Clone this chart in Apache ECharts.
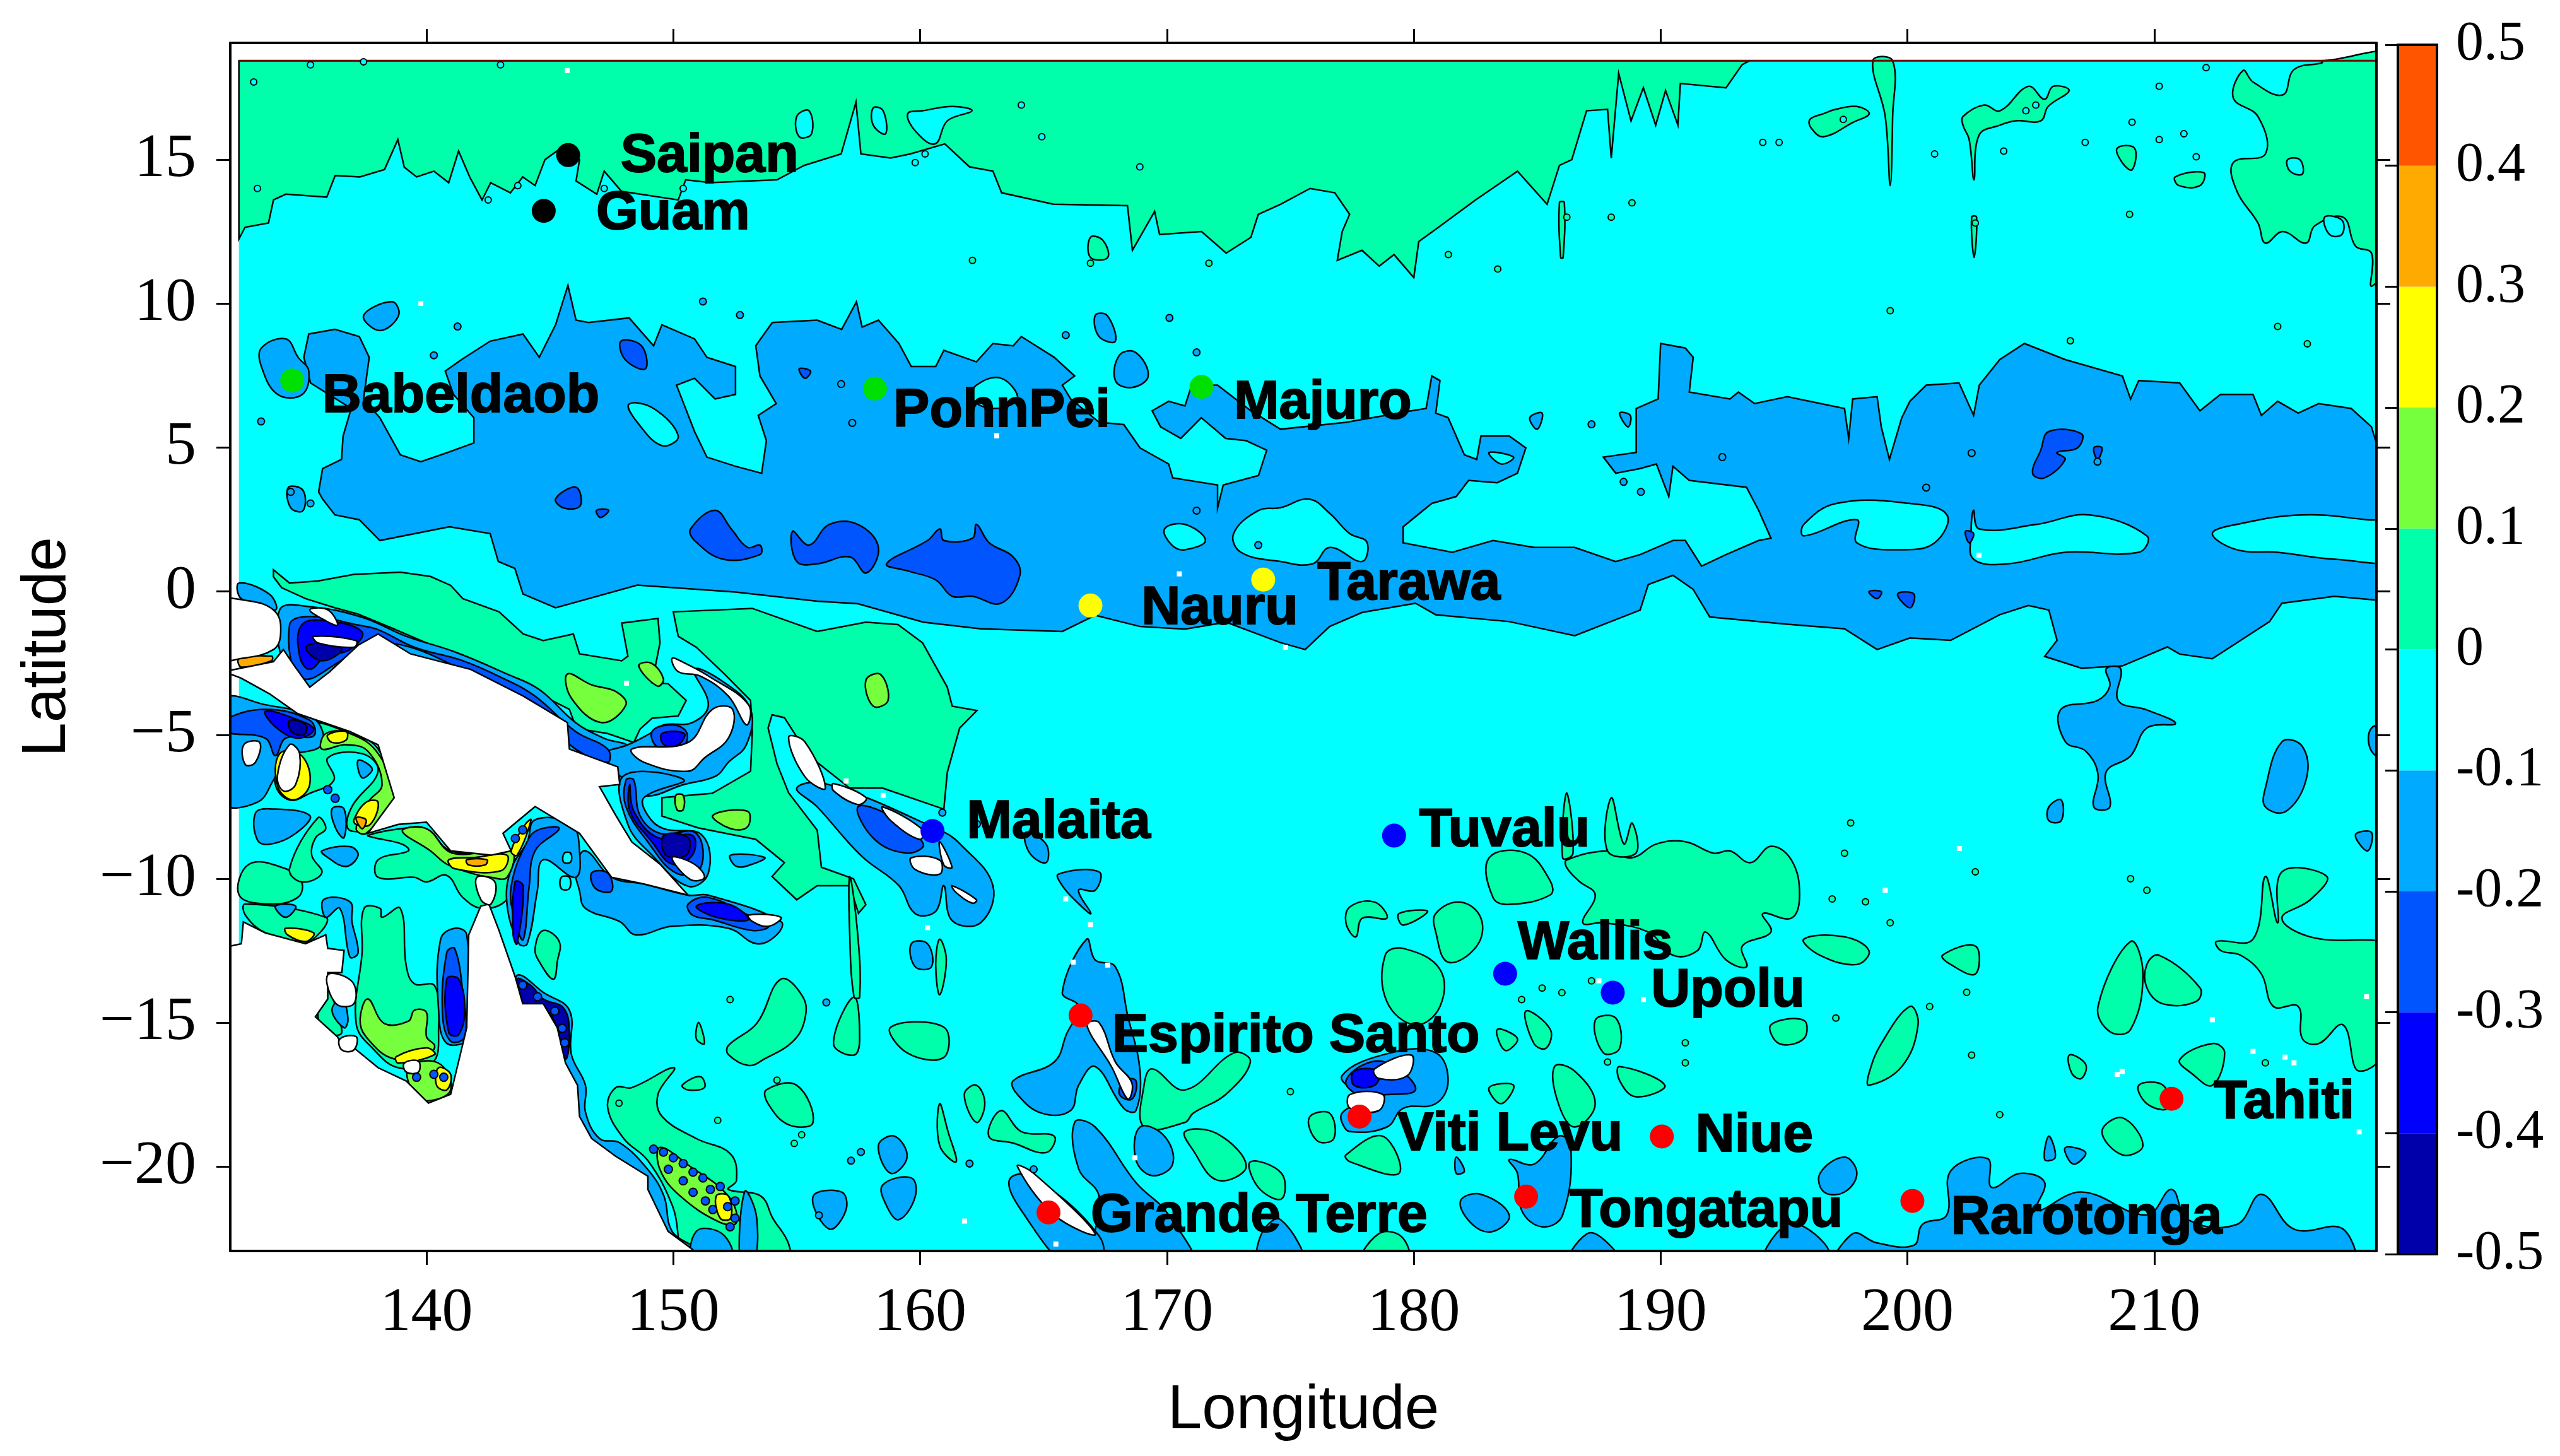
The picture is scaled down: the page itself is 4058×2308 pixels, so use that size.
<!DOCTYPE html>
<html>
<head>
<meta charset="utf-8">
<title>Sea level trend map</title>
<script src="https://cdn.jsdelivr.net/npm/echarts@6/dist/echarts.min.js"></script>
<style>
html,body{margin:0;padding:0;background:#fff;}
#chart{width:4058px;height:2308px;}
</style>
</head>
<body>
<div id="chart"></div>
<script>
// axis ticks
var xTicks = [140,150,160,170,180,190,200,210];
var yTicks = [-20,-15,-10,-5,0,5,10,15];

// colour bar
var barLevels = [-0.5,-0.4,-0.3,-0.2,-0.1,0,0.1,0.2,0.3,0.4,0.5];
var barColors = ['#0000aa','#0000ff','#0055ff','#00aaff','#00ffff','#00ffaa','#75ff3c','#ffff00','#ffaa00','#ff5500'];

// tide gauge stations
var stationNames = ['Saipan','Guam','Babeldaob','PohnPei','Majuro','Nauru','Tarawa','Malaita','Tuvalu','Wallis','Upolu','Espirito Santo','Viti Levu','Niue','Tahiti','Tongatapu','Rarotonga','Grande Terre'];
var stationLon = [145.74,144.75,134.56,158.17,171.4,166.9,173.9,160.5,179.2,183.7,188.06,166.5,177.8,190.05,210.7,184.55,200.2,165.2];
var stationLat = [15.16,13.22,7.32,7.04,7.1,-0.5,0.4,-8.34,-8.5,-13.3,-13.96,-14.75,-18.27,-18.96,-17.65,-21.05,-21.2,-21.6];
var stationColors = ['#000','#000','#00e000','#00e000','#00e000','#ffff00','#ffff00','#0000ff','#0000ff','#0000ff','#0000ff','#ff0000','#ff0000','#ff0000','#ff0000','#ff0000','#ff0000','#ff0000'];
var labelLon = [147.85,146.86,135.76,158.9,172.7,168.95,176.08,161.87,180.2,184.2,189.6,167.76,179.33,191.4,212.4,186.3,201.75,166.9];
var labelLat = [15.1,13.1,6.76,6.25,6.53,-0.62,0.23,-8.06,-8.34,-12.26,-13.9,-15.5,-18.9,-18.95,-17.8,-21.56,-21.8,-21.73];

// contours, [lon,lat]
var oceanBase = [[[132.4,-23],[219,-23],[219,18.44],[132.4,18.44]]];

var greenNorth = [
 [[132.4,18.44],[132.4,12.24],[132.65,12.65],[133.6,12.8],[133.8,13.6],[134.3,13.8],[135.96,13.7],[136.3,14.45],[137.3,14.4],[138.3,14.66],[138.84,15.7],[139.1,14.74],[139.6,14.4],[140.3,14.6],[140.9,14.2],[141.3,15.3],[141.75,14.4],[142.25,13.6],[142.6,14.2],[143.4,13.85],[143.9,14.4],[144.4,14.1],[144.8,15],[145.6,15.5],[146.2,15],[146.06,14.26],[146.9,13.8],[147.2,14.6],[147.9,13.9],[150.2,13.6],[150.5,14.3],[151.5,14.2],[154.2,14.3],[155.3,14.8],[156.8,15.2],[157.4,17],[157.6,15.2],[158.8,15.06],[159.6,15.2],[161,15.55],[162,14.75],[162.95,14.6],[163.3,13.85],[165.4,13.45],[168.4,13.4],[168.6,11.85],[169.5,13.2],[169.7,12.4],[171.4,12.5],[172.4,11.75],[173.4,12.3],[173.7,13.1],[174.6,13.45],[175.8,14],[176.8,13.85],[177.4,13.1],[177.1,12.5],[176.9,11.5],[177.9,11.85],[178.6,11.3],[179.2,11.7],[180,10.9],[180.2,12.15],[181,12.65],[182.5,13.6],[184.2,14.6],[185.4,13.45],[185.9,14.8],[186.4,15],[187,16.7],[187.85,16.75],[188,15.05],[188.3,18],[188.8,16.35],[189.3,17.5],[189.8,16.2],[190.2,17.4],[190.7,16.2],[190.8,17.65],[192.65,17.5],[193.3,18.3],[193.6,18.44]],
 [[216.8,18.37],[215.66,18.13],[215.2,17.25],[214,17.7],[213.6,18.1],[213.2,17.15],[214.2,16.5],[214.5,15.2],[213.2,14.9],[213.35,13.9],[214.2,12.8],[214.5,12.1],[215.2,12.5],[216.15,12.1],[216.5,12.7],[217.65,13],[218.15,12],[218.8,11.75],[218.8,10.6],[219.6,11.85],[220,18.44],[216.8,18.44]],
 [[202.25,16.5],[203.1,16.9],[203.75,16.7],[204.9,17.55],[205.55,17.1],[205.9,17.55],[206.55,17.4],[205.7,16.85],[205.4,16.35],[204.4,16.35],[203.75,16.2],[202.9,15.85],[202.7,14.3],[202.5,15.7],[202.25,16.2]],
 [[198.6,18.44],[199.4,18.44],[199.4,16.5],[199.3,14.1],[199.1,16.5]],
 [[196.05,16.4],[196.6,16.6],[197.1,16.75],[197.95,16.85],[198.45,16.6],[197.8,16.3],[196.6,15.8],[196.1,16.1]],
 [[208.5,15.4],[209.2,15.4],[209.1,14.65],[208.7,14.9]],
 [[210.85,14.4],[212,14.55],[211.85,14.1],[211,14.1]],
 [[166.9,12.3],[167.4,12.2],[167.6,11.6],[166.9,11.6]],
 [[185.9,13.5],[186.1,13.5],[186.05,11.6],[185.95,11.6]],
 [[202.6,13],[202.8,13],[202.7,11.6]]
];
var cyanNorth = [
 [[160.1,16.7],[161.3,16.85],[162.1,16.7],[161.1,16.35],[160.6,15.55],[159.8,16],[159.5,16.6]],
 [[155,16.5],[155.5,16.7],[155.6,15.9],[155.1,15.8]],
 [[158.1,16.8],[158.5,16.7],[158.6,15.9],[158.1,16.2]],
 [[215.4,15],[215.9,15],[216,14.5],[215.5,14.6]],
 [[216.9,13],[217.6,12.9],[217.6,12.4],[217.1,12.4]]
];
var bandBlue = [
 [[135.63,3.45],[135.79,4.26],[136.56,4.58],[136.62,5.39],[136.95,6.35],[135.3,7.24],[135.03,8.13],[135.23,8.94],[136.29,9.1],[137.28,8.85],[137.68,8.13],[137.45,6.68],[138.11,6.03],[138.94,4.74],[139.77,4.5],[140.86,4.82],[141.92,5.15],[141.92,6.03],[141.09,6.84],[140.76,7.65],[141.42,8.05],[142.58,8.69],[143.91,8.94],[144.57,8.13],[145.23,9.26],[145.73,10.63],[146.06,9.42],[146.56,9.34],[148.21,9.5],[149.2,8.53],[149.54,9.26],[150.86,8.77],[151.36,8.13],[152.52,7.81],[152.52,6.84],[151.69,6.68],[150.86,7.4],[150.13,7.16],[150.86,5.55],[151.36,4.66],[152.52,4.34],[153.58,4.1],[153.77,5.23],[153.44,6.11],[154.17,6.52],[153.51,7.48],[153.34,8.53],[154.01,9.34],[155.83,9.42],[156.82,9.1],[157.42,10.06],[157.65,9.18],[158.31,9.42],[159.14,8.61],[159.64,7.81],[160.63,7.81],[160.96,8.37],[162.28,7.97],[162.95,8.61],[163.77,8.53],[164.1,8.85],[165.43,8.13],[166.26,7.48],[165.76,7.16],[166.1,6.68],[167.25,5.87],[168.25,5.79],[168.91,4.98],[170.07,4.42],[170.23,3.94],[172.05,3.69],[172.05,2.89],[172.28,3.69],[173.71,4.02],[174.04,4.9],[173.21,5.23],[172.38,5.31],[171.39,6.03],[170.56,5.31],[169.74,5.71],[169.4,6.27],[170.07,6.6],[170.73,6.44],[171,7.16],[172.05,7.16],[173.4,6.27],[174.6,5.63],[177.25,5.87],[179.9,6.27],[180.5,6.35],[180.73,7.48],[181.06,7.32],[180.89,6.19],[181.39,6.03],[182.05,4.74],[182.55,4.58],[182.72,5.39],[183.87,5.39],[184.54,4.98],[184.2,4.1],[183.38,3.77],[182.22,3.85],[181.72,3.29],[180.73,3.05],[179.57,2.24],[179.57,1.68],[181.56,1.35],[183.21,1.76],[184.87,1.52],[186.52,1.52],[188.18,1.03],[189.17,1.27],[190.5,1.76],[191,1.76],[191.66,0.87],[192.65,1.27],[193.97,1.76],[194.47,1.84],[193.97,2.81],[193.48,3.61],[191.16,3.85],[190.5,4.34],[190.33,3.29],[189.83,4.42],[189.17,4.26],[188.18,4.1],[187.68,4.66],[189.01,4.82],[189.01,6.35],[189.9,6.68],[190,8.61],[191,8.45],[191.32,8.13],[191.16,6.92],[192.81,6.68],[193.15,6.92],[193.81,6.52],[195.13,6.76],[197.45,6.35],[197.62,5.31],[197.78,6.68],[198.77,6.76],[198.94,5.71],[199.27,4.58],[199.77,6.03],[200.1,6.6],[200.76,7.16],[202.09,7.24],[202.68,6.11],[202.91,7.16],[203.74,8.05],[204.74,8.61],[206.39,8.05],[208.71,7.48],[209.04,6.68],[209.37,7.32],[211.03,7.24],[211.85,6.27],[212.68,6.84],[214,6.84],[214.34,6.11],[215,6.6],[215.83,6.19],[216.66,6.52],[217.98,6.35],[218.8,5.71],[219,5.15],[219,-0.31],[217.3,-0.18],[215.17,-0.42],[214.67,-1.06],[212.35,-2.35],[211.03,-2.19],[210.53,-1.94],[208.71,-2.6],[207.05,-2.68],[205.56,-2.27],[206.06,-1.71],[205.73,-0.66],[204.9,-0.5],[203.74,-0.82],[201.75,-1.71],[200.1,-1.63],[198.77,-2.03],[197.45,-1.31],[195.13,-1.15],[191.99,-0.9],[191.32,0.06],[190.5,0.55],[189.5,0.23],[189.17,-0.66],[186.52,-1.55],[183.87,-1.06],[180.89,-0.82],[180.07,-0.42],[177.91,-0.74],[176.59,-1.23],[175.6,-2.03],[174.6,-1.79],[172.4,-1.08],[170.73,-1.32],[168.91,-1.23],[167.09,-0.84],[165.76,-1.4],[162.45,-1.31],[160.13,-1.08],[157.48,-0.44],[155.83,-0.35],[152.52,-0.03],[148.54,0.21],[145.23,-0.58],[143.91,-0.1],[143.58,0.79],[142.91,1.03],[142.58,2],[140.93,2.24],[138.11,1.76],[137.28,2.48],[136.29,2.65],[135.79,3.2]],
 [[133.31,8.45],[134.3,8.77],[134.8,8.13],[135.23,7.65],[134.97,6.84],[133.97,6.84],[133.31,7.81]],
 [[137.45,9.58],[138.6,10.06],[138.87,9.58],[138.11,9.06]],
 [[167.09,9.58],[167.58,9.58],[167.91,8.69],[167.25,8.85]],
 [[168.08,8.21],[168.74,8.29],[169.24,7.48],[168.58,7.08],[167.91,7.32]],
 [[184.7,6.03],[185.2,6.19],[185,5.63]],
 [[188.34,6.19],[188.77,6.11],[188.68,5.71]],
 [[134.4,3.6],[135,3.5],[135,2.8],[134.5,2.9]]
];
var bandHoles = [
 [[172.7,2],[173.7,2.8],[174.6,2.9],[175.76,3.2],[176.6,2.7],[177.4,2],[178.1,1.7],[177.9,1.03],[176.6,1.52],[175.9,0.95],[174.6,1.03],[173,1.35]],
 [[169.9,2.16],[170.73,2.32],[171.56,1.76],[170.73,1.44],[170.2,1.6]],
 [[195.8,2.32],[197.12,3.05],[200.1,3.05],[201.6,2.65],[201.1,1.68],[199.77,1.44],[197.95,1.68],[197.95,2.48],[195.8,1.92]],
 [[202.68,2.81],[202.91,2.16],[205.23,2.32],[207.38,2.65],[209.7,1.92],[209.37,1.35],[206.39,1.35],[204.07,0.95],[202.68,1.11],[202.58,2]],
 [[212.35,2],[213.34,2.32],[215.99,2.65],[218.64,2.48],[220,2.32],[220,1.11],[217.32,1.11],[215,1.35],[213.34,1.44]],
 [[162.28,7.16],[163.28,7.4],[163.94,6.68],[162.95,6.35],[162.12,6.68]],
 [[148.2,6.5],[149.2,6.35],[150.2,5.39],[149.54,5.06],[148.54,5.87]],
 [[183.05,4.82],[184.04,4.66],[183.54,4.42]]
];
var bandDeep = [
 [[158.64,0.95],[160.3,1.76],[160.8,2.16],[160.96,1.76],[162.12,1.84],[162.28,2.32],[162.8,1.68],[163.77,1.19],[164.04,0.55],[163.28,-0.42],[162.12,-0.18],[161.3,-0.18],[160.63,0.39],[159.47,0.71]],
 [[150.7,2.16],[151.69,2.81],[152.35,2.16],[153.01,1.52],[153.51,1.6],[153.51,1.27],[152.02,1.11],[150.86,1.76]],
 [[154.83,2.08],[155.5,1.6],[156.32,2.32],[157.48,2.32],[158.31,1.52],[157.81,0.63],[157.15,1.19],[155.83,0.95],[155,1.03]],
 [[147.88,8.69],[148.71,8.53],[148.87,7.73],[148.05,8.05]],
 [[145.23,3.21],[146.06,3.61],[146.23,2.97],[145.56,2.89]],
 [[146.89,2.81],[147.38,2.81],[147.05,2.56]],
 [[155.1,7.73],[155.56,7.65],[155.33,7.4]],
 [[205.73,5.55],[207.05,5.47],[206.89,4.98],[206.06,4.82],[206.39,4.58],[205.56,3.94],[205.07,4.1],[205.4,4.9]],
 [[199.6,-0.1],[200.26,-0.1],[200.1,-0.58]],
 [[198.44,-0.02],[198.94,-0.02],[198.77,-0.26]],
 [[207.55,4.98],[207.88,4.98],[207.7,4.58]],
 [[202.35,2.08],[202.68,2],[202.5,1.68]]
];

var greenSouth = [
 [[133.8,0.74],[134.45,0.28],[135.6,0.35],[137.06,0.58],[138.94,0.66],[140.16,0.51],[140.98,0.2],[141.47,-0.26],[142.94,-0.72],[143.92,-1.49],[144.73,-1.72],[145.95,-1.49],[146.2,-2.18],[147.91,-2.42],[148.16,-2.26],[147.91,-1.11],[149.38,-0.95],[149.46,-1.8],[149.14,-3.18],[149.79,-3.22],[150.52,-3.8],[150.2,-4.34],[149.14,-4.42],[148.65,-4.8],[148.4,-5.26],[147.34,-4.95],[146.28,-4.8],[145.95,-4.49],[145.79,-4.11],[144.73,-3.65],[143.92,-3.26],[142.77,-2.88],[141.79,-2.34],[140,-1.8],[138.53,-1.26],[137.23,-0.8],[136.25,-0.57],[135.1,-0.26],[134.13,0.12],[133.8,0.5]],
 [[150,-0.72],[153.2,-0.6],[155.83,-1.4],[157.8,-1.08],[159.1,-1.16],[160.1,-1.8],[161.1,-3.34],[161.3,-4],[162.3,-4.15],[161.6,-4.76],[161.1,-6.3],[160.96,-7.58],[158.48,-6.85],[157.15,-6.85],[155.5,-5.73],[154.5,-4.4],[154,-4.3],[153.84,-4.76],[154.2,-6],[154.67,-7.01],[155.83,-8.31],[156,-9.6],[157.3,-10],[157.8,-10.9],[157.5,-11.2],[157.15,-10.24],[155.83,-10.24],[155,-10.73],[154,-9.92],[154.5,-9.44],[153.34,-8.63],[151,-8.23],[149.54,-7.82],[149.54,-7.18],[151.58,-7.03],[153.13,-6.26],[153.2,-4.88],[153.13,-3.8],[152.07,-2.88],[150.93,-1.95],[150.2,-1.57]],
 [[147.34,-17.95],[147.67,-17.26],[148.32,-17.26],[150.03,-16.57],[149.38,-17.49],[149.54,-18.26],[150.93,-19.03],[152.32,-19.57],[152.56,-20.49],[152.23,-20.8],[153.54,-21.03],[154.03,-21.8],[154.68,-22.72],[154.68,-23.6],[150.77,-23.6],[149.95,-21.34],[148.97,-19.8],[147.99,-19.03]],
 [[137.47,-11.03],[138.12,-11.03],[138.2,-11.34],[138.94,-11.03],[139.18,-13.03],[139.51,-13.65],[140.33,-13.72],[140.49,-15.18],[140.24,-16.41],[138.86,-16.57],[137.88,-15.95],[137.15,-15.03],[137.39,-12.57]],
 [[135.27,-4.57],[136.9,-4.95],[138.04,-5.49],[138.61,-7.18],[137.55,-8.26],[136.82,-8.26],[136.98,-7.49],[138.04,-6.26],[137.39,-5.65],[136,-5.8],[136.25,-6.57],[135.27,-7.03],[134.45,-7.26],[133.88,-6.72],[134.05,-5.65],[135.11,-5.18]],
 [[132.41,-10.57],[132.82,-9.49],[134.29,-9.65],[134.94,-10.11],[134.78,-10.65],[133.64,-10.88]],
 [[134.45,-9.65],[135.6,-7.88],[135.92,-8.26],[135.51,-8.57],[135.35,-9.18],[135.76,-9.8],[134.94,-10.11]],
 [[137.63,-8.49],[138.94,-8.26],[140,-8.26],[140.98,-9.03],[143.43,-9.18],[143.59,-9.8],[143.26,-10.72],[142.28,-11.03],[141.47,-10.65],[140.82,-9.88],[140,-10.11],[139.51,-9.95],[138.04,-9.95],[138.04,-9.34],[139.27,-9.03],[139.02,-8.8],[137.88,-8.57]],
 [[132.66,-10.88],[135.92,-11.34],[135.76,-11.8],[134.94,-12.26],[133.47,-11.88],[132.66,-11.26]],
 [[135.6,-14.8],[136.08,-13.88],[136.33,-14.57],[136.57,-15.34],[136.25,-15.42]],
 [[152.23,-15.8],[153.38,-15.03],[154.36,-13.49],[155.25,-14.11],[155.33,-14.88],[154.85,-15.65],[153.7,-16.26],[153.05,-16.49],[152.23,-16.11]],
 [[144.4,-12.42],[144.73,-11.8],[145.38,-12.18],[145.3,-12.88],[145.14,-13.49],[144.57,-12.88]],
 [[150.36,-17.18],[151.09,-16.88],[151.26,-17.26],[150.6,-17.34]],
 [[160.79,-12.1],[161.06,-12.82],[160.79,-14.03],[160.63,-12.98]],
 [[169.07,-17.18],[169.4,-16.61],[170.73,-17.34],[172.72,-16.05],[173.38,-16.37],[172.38,-17.5],[171.06,-18.15],[170.73,-18.47],[169.07,-18.63]],
 [[170.73,-18.79],[172.05,-18.87],[173.21,-20],[172.05,-20.48],[171.06,-19.44]],
 [[173.38,-19.84],[174.64,-20.24],[174.64,-21.13],[173.7,-20.73]],
 [[163.28,-18.06],[164.1,-18.79],[165.43,-18.95],[165.1,-19.52],[163.77,-19.19],[162.78,-18.95]],
 [[161.79,-17.5],[162.28,-17.18],[162.62,-17.82],[162.28,-18.47]],
 [[160.79,-17.82],[161.13,-18.79],[161.46,-19.84],[160.79,-19.27]],
 [[156.49,-15.73],[157.32,-14.11],[157.55,-15.56],[157.32,-16.13]],
 [[157.15,-9.92],[157.48,-12.02],[157.55,-14.11],[157.32,-14.11],[157.15,-12.02]],
 [[158.81,-15.16],[160.96,-15.16],[160.96,-16.21],[159.47,-16.05]],
 [[151.03,-15],[151.26,-15.73],[150.93,-15.56]],
 [[153.77,-17.34],[155,-17.18],[155.66,-18.47],[154.67,-18.55],[153.84,-17.82]],
 [[186.19,-9.35],[187.85,-9.03],[188.84,-9.27],[189.83,-8.79],[191,-8.71],[192.15,-9.11],[192.81,-9.03],[193.64,-9.44],[194.47,-8.87],[195.3,-9.35],[195.63,-10.56],[195.3,-11.37],[194.14,-11.21],[194.47,-11.85],[193.31,-12.34],[193.48,-13.06],[192.65,-12.82],[191.82,-11.85],[191.49,-12.5],[190.5,-12.66],[189.5,-11.85],[187.68,-11.53],[186.85,-11.53],[187.35,-10.56],[186.69,-10.08],[186.19,-9.6]],
 [[183.05,-9.27],[184.54,-9.11],[185.53,-10.08],[185.53,-10.56],[183.87,-10.89],[183.21,-10.65]],
 [[188.01,-7.18],[188.51,-8.79],[188.84,-8.06],[189,-9.11],[187.85,-9.03]],
 [[186.19,-7.02],[186.45,-9.11],[186.03,-9.27]],
 [[177.42,-10.97],[178.41,-10.81],[178.91,-11.37],[177.91,-11.37],[177.65,-12.02],[177.25,-11.53]],
 [[179.4,-11.21],[180.56,-11.13],[179.57,-11.61]],
 [[180.89,-11.21],[181.89,-10.81],[182.72,-11.37],[182.55,-12.34],[181.39,-12.9],[180.89,-11.85]],
 [[178.84,-12.66],[179.57,-12.42],[181.06,-13.15],[181.06,-14.44],[180.07,-15.08],[178.91,-14.27]],
 [[183.38,-15.24],[184.2,-15.56],[183.7,-15.97]],
 [[184.54,-14.6],[185.53,-15.24],[185.36,-15.89],[184.87,-15.73]],
 [[187.35,-14.92],[188.18,-14.84],[188.34,-15.89],[187.68,-16.05]],
 [[188.34,-16.53],[190.17,-17.18],[189,-17.58],[188.34,-17.02]],
 [[194.47,-15.08],[195.8,-14.92],[195.8,-15.56],[194.8,-15.73]],
 [[198.94,-15.73],[200.1,-14.44],[200.43,-15.08],[199.77,-16.53],[198.44,-17.18],[198.44,-16.77]],
 [[195.8,-12.1],[197.45,-12.02],[198.44,-12.5],[197.95,-12.98],[196.46,-12.66]],
 [[201.42,-12.66],[202.75,-12.34],[202.75,-13.31],[201.75,-12.98]],
 [[207.72,-14.44],[209.04,-12.18],[209.54,-13.31],[209.04,-15.24],[208.21,-15.32]],
 [[209.7,-12.98],[210.2,-12.66],[211.85,-13.79],[211.69,-14.27],[210.36,-14.35],[209.7,-13.79]],
 [[211.03,-16.29],[212.35,-15.73],[212.85,-16.05],[212.35,-17.18],[211.52,-16.77]],
 [[209.37,-17.18],[210.36,-17.18],[210.53,-17.98],[209.7,-17.82]],
 [[207.88,-18.79],[208.71,-18.31],[209.54,-19.27],[208.71,-19.6]],
 [[206.56,-16.13],[207.22,-16.45],[207.05,-16.94],[206.66,-16.77]],
 [[183.05,-17.26],[184.04,-17.18],[183.54,-17.82]],
 [[185.7,-16.53],[186.52,-16.69],[187.35,-17.82],[186.52,-18.63],[185.86,-17.82]],
 [[175.76,-18.31],[176.59,-18.15],[176.76,-19.03],[176.09,-19.11]],
 [[177.25,-19.6],[178.74,-18.95],[179.4,-20.24],[177.42,-19.84]],
 [[212.52,-12.18],[214,-12.1],[214.5,-9.92],[215,-11.53],[215.17,-9.76],[216.99,-9.92],[216.32,-10.73],[215.17,-11.37],[216.32,-12.02],[220,-12.5],[220,-15.24],[218.31,-16.69],[217.65,-15.08],[216.66,-15.73],[216,-15.56],[215.83,-14.44],[214.83,-14.44],[214.34,-13.31],[213.5,-12.66],[212.7,-12.5]],
 [[177.75,-23.6],[178.58,-22.34],[179.57,-22.5],[179.74,-23.6]]
];
var blueSouth = [
 [[134.05,-0.65],[135.27,-0.54],[137.39,-0.91],[139.18,-1.57],[141.14,-2.11],[143.26,-2.88],[144.57,-3.42],[146.04,-4.57],[147.18,-5.11],[148.32,-5.49],[148.32,-6.57],[147.5,-6.57],[145.06,-5.34],[140.16,-3.03],[137.72,-2.26],[135.27,-3.49],[134.29,-2.72]],
 [[146.69,-5.8],[148.16,-5.34],[149.05,-4.95],[149.62,-4.65],[150.77,-4.57],[151.42,-3.95],[150.84,-2.72],[152.07,-3.18],[153.13,-4.11],[152.96,-5.34],[152.23,-5.95],[151.74,-6.42],[150.44,-6.72],[148.81,-7.11],[147.83,-6.42]],
 [[147.99,-6.42],[150.44,-6.57],[148.81,-7.18],[148.97,-7.8],[149.62,-8.26],[151.17,-8.49],[151.42,-9.8],[150.6,-10.26],[149.14,-9.18],[148.16,-8.11]],
 [[146.04,-9.65],[146.44,-9.03],[147.5,-9.95],[148.81,-10.18],[150.6,-10.57],[151.42,-10.57],[154.36,-11.49],[154.19,-11.95],[153.38,-12.26],[152.23,-11.72],[149.95,-11.65],[148.48,-11.95],[147.83,-11.49],[146.44,-11.03],[146.2,-10.42]],
 [[144.4,-7.95],[145.87,-8.11],[146.2,-9.03],[146.04,-9.95],[144.73,-9.34],[144.49,-10.42],[144.08,-12.26],[143.75,-12.26],[143.26,-10.88],[143.43,-9.65],[144.08,-8.72]],
 [[143.75,-13.34],[144.73,-13.95],[145.79,-14.57],[145.87,-16.11],[146.44,-17.18],[146.44,-18.11],[147.01,-19.03],[147.83,-19.18],[148.97,-20.11],[149.62,-21.03],[149.95,-22.26],[150.93,-22.88],[149.79,-22.88],[146.69,-19.18],[145.06,-15.8],[143.59,-13.8]],
 [[150.93,-22.26],[152.07,-22.41],[152.4,-23.6],[150.85,-23.6]],
 [[152.89,-20.88],[153.38,-21.8],[153.21,-23.6],[152.72,-23.6]],
 [[131.8,-3.8],[133.47,-3.95],[135.43,-4.42],[135.76,-5.34],[134.29,-5.8],[133.8,-6.57],[133.15,-7.34],[131.8,-7.34]],
 [[133.07,-7.72],[133.64,-7.57],[135.27,-7.8],[134.7,-8.42],[133.64,-8.8],[133.15,-8.65]],
 [[136.17,-7.57],[136.66,-7.57],[136.66,-8.57],[136.33,-8.26]],
 [[137.23,-5.88],[137.8,-6.18],[137.39,-6.49]],
 [[135.76,-9.03],[136.9,-8.88],[137.23,-9.18],[136.74,-9.57],[136,-9.26]],
 [[133.88,-10.95],[134.7,-10.95],[134.29,-11.34]],
 [[135.84,-10.72],[136.9,-10.8],[136.98,-11.49],[137.23,-12.57],[136.9,-12.72],[136.49,-11.03],[135.92,-11.34]],
 [[140.57,-12.11],[141.14,-11.72],[141.63,-11.95],[141.71,-15.49],[140.82,-15.72],[140.49,-14.57]],
 [[136.17,-14.57],[136.57,-14.18],[136.82,-14.88],[136.66,-15.18]],
 [[132.41,0.28],[133.64,-0.11],[133.88,-0.65],[132.5,-0.26]],
 [[155,-6.85],[156.16,-6.69],[160.79,-8.31],[161.62,-8.79],[162.95,-10.24],[162.45,-11.53],[161.29,-11.45],[160.96,-10.24],[160.63,-11.13],[159.8,-11.21],[159.14,-10.24],[157.81,-9.35],[157.15,-8.79],[155.83,-7.5]],
 [[165.6,-9.84],[167.25,-9.76],[167.09,-10.4],[166.42,-10.4],[166.92,-11.21],[166.26,-10.73],[165.76,-10.24]],
 [[159.64,-12.26],[160.3,-12.26],[160.46,-13.06],[159.8,-13.06]],
 [[164.27,-8.39],[165.1,-8.79],[165.1,-9.44],[164.44,-9.11]],
 [[163.77,-17.02],[165.43,-16.37],[165.93,-15.4],[166.42,-14.44],[165.76,-13.95],[166.75,-12.1],[167.09,-12.82],[167.91,-13.06],[168.41,-14.76],[168.91,-16.69],[168.74,-18.06],[168.25,-17.98],[167.09,-16.53],[166.42,-17.18],[166.09,-18.06],[164.93,-18.15],[163.94,-17.5]],
 [[168.91,-18.63],[169.9,-18.95],[170.23,-19.92],[169.4,-20.32],[168.74,-19.76]],
 [[166.26,-18.47],[167.09,-18.63],[168.74,-20.56],[170.07,-21.69],[171.06,-23.6],[167.09,-23.6],[167.25,-21.05],[166.42,-20.08]],
 [[163.61,-20.48],[164.44,-20.32],[167.25,-22.42],[167.25,-23.6],[166.09,-23.6],[164.1,-21.53]],
 [[158.31,-19.27],[158.97,-18.95],[159.47,-19.68],[158.81,-20.24]],
 [[158.48,-20.65],[159.64,-20.4],[159.8,-21.05],[159.14,-21.85],[158.64,-21.37]],
 [[155.66,-21.05],[156.82,-20.89],[156.99,-21.53],[156.32,-22.18]],
 [[152.32,-9.18],[153.7,-9.26],[153.21,-9.49],[152.56,-9.57]],
 [[208.05,-2.7],[208.64,-2.7],[208.54,-3.8],[209.7,-4.13],[210.86,-4.6],[209.7,-4.76],[209.04,-5.73],[208.05,-6.29],[208.2,-7.5],[207.55,-7.5],[207.72,-6.37],[207.22,-5.56],[206.4,-5.24],[206.2,-4.13],[207.7,-3.8],[208.2,-3.3]],
 [[214.5,-6.85],[215.17,-5.24],[216,-5.4],[216.16,-6.53],[215.33,-7.66],[214.5,-7.5]],
 [[205.73,-7.5],[206.23,-7.26],[206.23,-7.98],[205.73,-7.98]],
 [[218.15,-8.47],[218.8,-8.39],[218.64,-9.03]],
 [[218.8,-4.76],[219.6,-4.76],[219.6,-5.89],[218.8,-5.56]],
 [[181.89,-21.21],[182.72,-20.97],[183.87,-21.69],[183.21,-22.26],[182.38,-22.02]],
 [[183.87,-19.76],[184.87,-19.92],[185.86,-18.95],[186.36,-19.27],[186.03,-21.69],[185.2,-22.1],[184.37,-21.53],[184.2,-20.24]],
 [[186.19,-23.6],[187.02,-22.34],[187.85,-22.66],[188.51,-23.6]],
 [[194.14,-23.6],[195.13,-22.02],[196.62,-22.66],[196.79,-23.6]],
 [[196.46,-20.24],[197.45,-19.68],[197.95,-20.24],[197.45,-20.89],[196.62,-20.89]],
 [[197.12,-23.6],[197.78,-22.34],[198.77,-22.66],[200.26,-22.74],[200.6,-22.02],[201.59,-21.69],[201.75,-20.16],[203.25,-19.73],[203.41,-20.73],[204.57,-20.24],[205.56,-20.56],[205.23,-21.53],[207.05,-20.89],[209.7,-21.69],[210.7,-20.8],[211.36,-21.85],[213.34,-22.02],[214.34,-20.97],[215.66,-22.18],[217.65,-22.18],[217.9,-23.6]],
 [[205.73,-18.95],[205.99,-19.68],[205.56,-19.76]],
 [[206.39,-19.35],[207.22,-19.52],[206.72,-19.92]],
 [[181.72,-19.68],[182.05,-20.16],[181.72,-20.24]],
 [[173.8,-22.4],[174.6,-21.85],[175.6,-23.6],[173.8,-23.6]],
 [[177.09,-18.15],[177.75,-17.66],[177.09,-16.85],[179.07,-16.05],[180.89,-16.05],[181.39,-17.02],[180.89,-17.82],[179.57,-17.98],[178.91,-18.63],[177.42,-18.79],[177.09,-18.47]]
];
var cyanSouth = [
 [[145.58,-9.11],[145.84,-9.11],[145.84,-9.42],[145.55,-9.42]],
 [[145.46,-9.95],[145.79,-9.95],[145.79,-10.34],[145.46,-10.34]]
];
var deepSouth = [
 [[134.45,-1.18],[135.27,-0.88],[137.23,-1.18],[138.04,-1.34],[139.51,-1.95],[141.47,-2.42],[143.1,-3.03],[144.4,-3.65],[146.04,-4.88],[147.34,-5.49],[147.34,-5.95],[146.04,-5.49],[144.24,-4.11],[141.79,-2.88],[138.53,-1.8],[136.9,-2.26],[134.94,-3.03]],
 [[149.14,-4.88],[149.95,-4.65],[150.52,-4.88],[150.44,-5.34],[149.38,-5.42]],
 [[148.08,-6.57],[148.4,-6.57],[148.65,-7.8],[149.46,-8.42],[150.93,-8.42],[151.09,-9.65],[150.11,-9.8],[148.97,-8.72],[148.08,-7.49]],
 [[146.69,-9.8],[147.34,-9.8],[147.5,-10.42],[146.85,-10.34]],
 [[150.6,-10.88],[151.42,-10.65],[153.21,-11.34],[153.87,-11.65],[153.21,-11.8],[151.58,-11.42],[150.77,-11.26]],
 [[144.16,-8.57],[144.65,-8.26],[145.38,-8.26],[144.4,-9.03],[144.16,-10.26],[143.92,-12.11],[143.59,-11.49],[143.43,-10.26]],
 [[131.8,-4.49],[133.47,-4.11],[135.27,-4.49],[135.43,-5.03],[134.29,-5.11],[133.88,-5.72],[133.47,-5.11],[131.8,-4.88]],
 [[140.82,-12.57],[141.14,-12.42],[141.47,-13.95],[141.55,-15.49],[140.98,-15.65],[140.65,-14.72]],
 [[157.48,-7.5],[158.81,-7.82],[160.13,-8.79],[159.47,-9.11],[158.15,-8.63]],
 [[168.25,-17.02],[168.74,-17.02],[168.58,-17.66],[168.08,-17.5]],
 [[177.25,-17.02],[178.25,-16.37],[179.24,-16.53],[180.07,-17.34],[178.91,-17.5],[177.75,-17.5]]
];
var pureSouth = [
 [[134.94,-1.18],[135.92,-1.03],[137.39,-1.42],[136.9,-2.03],[135.92,-2.26],[135.27,-2.72],[134.86,-2.26]],
 [[149.54,-4.95],[150.44,-4.95],[150.2,-5.34],[149.62,-5.34]],
 [[148.24,-6.72],[148.4,-7.65],[149.38,-8.57],[150.77,-8.49],[150.77,-9.18],[149.95,-9.49],[149.14,-8.72],[148.24,-7.65]],
 [[150.93,-10.95],[152.23,-10.88],[153.05,-11.42],[151.74,-11.34]],
 [[143.59,-10.11],[143.92,-10.26],[143.67,-12.26],[143.51,-11.95]],
 [[133.47,-4.18],[134.62,-4.42],[135.43,-4.8],[134.78,-5.11],[133.88,-4.72]],
 [[140.82,-13.49],[141.3,-13.49],[141.55,-14.57],[141.3,-15.42],[140.9,-15.34]],
 [[177.58,-16.69],[178.58,-16.69],[178.41,-17.18],[177.58,-17.18]]
];
var navySouth = [
 [[135.11,-1.95],[135.92,-1.8],[136.57,-2.03],[135.76,-2.42]],
 [[149.62,-8.49],[150.6,-8.57],[150.52,-9.18],[149.7,-9.18]],
 [[134.45,-4.49],[135.11,-4.65],[135.03,-5],[134.53,-4.88]],
 [[143.67,-13.49],[144.24,-13.72],[144.73,-14.18],[145.55,-14.49],[145.79,-15.34],[145.63,-16.26],[145.14,-14.88],[144.57,-14.42],[143.92,-14.42]]
];
var limeSouth = [
 [[145.71,-2.88],[146.69,-3.26],[147.67,-3.49],[148.08,-3.95],[147.1,-4.57],[145.87,-3.72]],
 [[149.46,-19.34],[150.6,-19.95],[152.23,-21.03],[152.56,-21.95],[151.9,-21.95],[150.28,-21.03],[149.46,-20.11]],
 [[135.92,-4.95],[136.9,-4.95],[138.04,-5.65],[138.69,-7.18],[137.55,-8.42],[137.15,-8.26],[137.63,-7.34],[138.2,-6.72],[137.63,-5.57],[136.74,-5.34],[135.76,-5.49]],
 [[139.02,-8.34],[140,-8.26],[141.06,-9.11],[143.43,-9.03],[143.26,-9.95],[142.61,-9.95],[141.79,-9.8],[140.82,-9.49],[140.16,-9.03]],
 [[137.63,-14.18],[138.29,-15.03],[139.27,-14.95],[139.51,-14.57],[140,-14.65],[140,-15.49],[140.33,-15.8],[140.16,-16.03],[138.69,-16.26],[137.55,-15.49],[137.31,-14.88]],
 [[139.27,-16.57],[140.49,-16.41],[140.98,-17.34],[140.08,-17.72],[139.51,-17.49]],
 [[148.6,-2.6],[149.1,-2.5],[149.6,-3.05],[149.35,-3.3]],
 [[151.6,-7.8],[153,-7.65],[153,-8.2],[152.3,-8.25]],
 [[150.1,-7.1],[150.4,-7.1],[150.4,-7.6],[150.15,-7.6]],
 [[157.8,-3.1],[158.4,-2.9],[158.7,-3.8],[158.1,-4]]
];
var yellowSouth = [
 [[151.74,-21.03],[152.23,-21.03],[152.32,-21.8],[151.9,-21.8]],
 [[136,-5],[136.74,-4.88],[136.74,-5.18],[136.17,-5.26]],
 [[137.55,-7.34],[138.04,-7.34],[137.72,-8.11],[137.15,-8.11],[137.06,-7.95]],
 [[134.05,-5.65],[134.94,-5.72],[135.27,-6.72],[134.62,-7.26],[133.98,-6.8]],
 [[140.9,-9.34],[141.96,-9.26],[143.26,-9.18],[143.02,-9.72],[141.14,-9.65]],
 [[143.43,-9.03],[144,-8.11],[144.24,-7.95],[143.67,-9.18]],
 [[134.29,-11.72],[135.43,-11.88],[135.11,-12.18],[134.37,-11.95]],
 [[138.78,-16.18],[140,-15.88],[140.33,-16.11],[138.86,-16.41]],
 [[140.49,-16.57],[140.98,-16.8],[140.82,-17.34],[140.41,-17.18]]
];
var orangeSouth = [
 [[137.15,-7.88],[137.55,-7.95],[137.39,-8.26]],
 [[141.63,-9.34],[142.45,-9.34],[142.37,-9.52],[141.71,-9.52]],
 [[132.41,-2.34],[133.72,-2.26],[133.72,-2.42],[132.5,-2.64]]
];
var landWhite = [
 [[132.05,-23],[132.05,-12.34],[132.5,-12.26],[132.58,-11.5],[133.47,-11.88],[135.1,-12.26],[135.92,-11.95],[136,-12.42],[136.66,-12.49],[136.57,-13.26],[136,-13.26],[136,-14.18],[135.5,-14.8],[136.4,-15.5],[136.66,-15.95],[137.06,-15.88],[138.04,-16.57],[139.18,-17.03],[140.08,-17.8],[140.98,-17.49],[141.63,-15.18],[141.71,-11.95],[142.2,-10.95],[142.53,-10.88],[142.94,-11.8],[143.59,-13.4],[143.9,-14.34],[144.73,-14.34],[145.3,-15.18],[145.63,-16.4],[146.12,-17.18],[146.2,-18.26],[146.69,-19.03],[147.67,-19.65],[148.97,-20.34],[148.97,-20.8],[149.79,-22.26],[150.77,-22.88],[150.9,-23]],
 [[131.5,-0.42],[132.82,-0.34],[133.88,-0.72],[134.09,-1.49],[133.8,-2.03],[132.5,-2.34],[131.5,-2.34]],
 [[132.05,-2.75],[132.41,-2.69],[133.8,-2.45],[134.2,-2.03],[134.65,-2.6],[135.27,-3.34],[136.08,-2.8],[137.23,-1.88],[138.04,-1.49],[139.35,-2.18],[141.79,-2.72],[143.92,-3.65],[145.71,-4.57],[145.79,-5.49],[147.75,-6.11],[147.83,-6.72],[147.01,-6.8],[147.67,-7.8],[148.32,-8.72],[149.46,-9.49],[150.6,-10.57],[148.81,-10.18],[147.5,-9.95],[146.2,-8.42],[144.4,-7.49],[143.1,-8.42],[143.43,-9.03],[142.61,-9.18],[140.98,-9.03],[140,-8.03],[138.86,-8.11],[137.63,-8.42],[138.69,-7.18],[138.04,-5.34],[136.9,-4.88],[134.78,-4.26],[133.64,-3.57],[132.5,-3.03],[132.05,-2.88]],
 [[148.32,-5.49],[150.6,-5.26],[151.58,-4.11],[152.4,-4.11],[152.23,-5.11],[151.26,-5.8],[150.6,-6.26],[148.81,-5.95]],
 [[149.95,-2.34],[150.44,-2.49],[151.42,-2.95],[153.05,-3.95],[152.96,-4.65],[152.23,-3.65],[151.09,-2.95],[150.2,-2.8]],
 [[154.67,-5.08],[155.33,-5.24],[156.16,-6.85],[155.33,-6.45]],
 [[156.49,-6.69],[157.81,-7.18],[157.48,-7.42],[156.49,-6.94]],
 [[158.48,-7.5],[160.13,-8.31],[159.97,-8.63],[158.81,-7.98]],
 [[159.64,-9.27],[160.79,-9.35],[160.79,-9.84],[159.8,-9.68]],
 [[161.29,-10.24],[162.28,-10.73],[162.12,-10.85],[161.46,-10.48]],
 [[160.79,-8.71],[161.29,-9.6],[160.96,-9.52]],
 [[166.75,-15.08],[167.25,-15],[167.91,-16.37],[168.58,-17.1],[168.41,-17.66],[167.75,-16.53]],
 [[163.94,-20],[164.6,-20.24],[167.09,-22.34],[165.43,-21.69]],
 [[178.41,-16.61],[179.9,-16.13],[179.73,-16.85],[178.58,-16.94]],
 [[177.42,-17.5],[178.74,-17.5],[178.58,-18.06],[177.42,-17.98]],
 [[135.43,-1.57],[137.15,-1.72],[137.06,-1.95],[135.6,-1.8]],
 [[135.27,-0.65],[136,-0.65],[136.4,-1.18],[135.92,-1.03]],
 [[133.96,-6.42],[134.45,-5.34],[134.86,-5.65],[134.7,-6.72],[134.21,-6.95]],
 [[132.6,-5.34],[133.24,-5.26],[133.07,-5.95],[132.66,-6.03]],
 [[142.04,-9.95],[142.77,-10.11],[142.61,-10.88],[142.2,-10.72]],
 [[149.95,-9.26],[150.85,-9.49],[151.26,-9.95],[150.7,-10.03]],
 [[153.05,-11.26],[154.36,-11.34],[153.87,-11.65],[153.21,-11.49]],
 [[136,-13.34],[136.98,-13.57],[137.06,-14.34],[136.33,-14.34]],
 [[136.49,-15.57],[137.15,-15.49],[137.06,-15.95],[136.57,-15.95]],
 [[139.1,-16.41],[139.67,-16.34],[139.67,-16.72],[139.18,-16.72]]
];

// small closed contours and gaps, [lon,lat]
var isletsCyan = [[164.1,16.9],[164.93,15.8],[133.15,14],[133,17.7],[135.3,18.3],[137.45,18.4],[143,18.3],[168.9,14.75],[194.14,15.6],[194.8,15.6],[201.1,15.2],[203.9,15.3],[207.2,15.6],[210.2,15.7],[211.2,15.9],[211.7,15.1],[210.2,17.55],[212.1,18.2],[209.1,16.3],[204.8,16.7],[205.2,16.9],[197.4,16.4],[147.2,14],[150.4,14],[142.5,13.6],[143.7,14.1],[160.2,15.2],[159.8,14.9]];
var isletsGreen = [[162.12,11.5],[166.9,11.4],[171.7,11.4],[186.2,13],[188,13],[188.84,13.5],[181.4,11.7],[183.4,11.2],[215,9.2],[216.2,8.6],[199.3,9.75],[206.6,8.7],[202.75,12.8],[209,13.1],[197.7,-8.06],[197.45,-9.11],[202.75,-9.76],[209.04,-10],[209.7,-10.4],[199.3,-11.53],[198.3,-10.8],[196.95,-10.7],[202.6,-16.13],[203.74,-18.2],[185.2,-13.8],[186,-13.96],[184.37,-14.2],[187.85,-16.37],[191,-15.7],[191,-16.4],[197.1,-14.84],[200.9,-14.44],[202.4,-13.95],[214.5,-16.4],[175,-17.4],[187.2,-13.55],[154.2,-17],[154.9,-19.2],[155.2,-18.9],[152.3,-14.2],[147.8,-17.8],[151.8,-18.4]];
var isletsBlue = [[133.3,5.9],[156.8,7.2],[157.25,5.85],[151.2,10.07],[152.7,9.6],[141.26,9.2],[140.3,8.2],[170.1,9.5],[165.9,8.9],[171.2,8.3],[135.3,3.05],[134.5,3.45],[171.2,2.8],[173.7,1.6],[187.2,5.8],[188.5,3.8],[189.2,3.45],[192.5,4.66],[200.76,3.6],[202.6,4.8],[207.7,4.5],[160.9,-7.7],[162.3,-8.1],[156.2,-14.3],[155.9,-21.7],[157.2,-19.8],[157.6,-19.5],[162,-19.9],[164.6,-20.1],[165,-21.4]];
var isletsDark = [[149.6,-19.5],[150,-19.7],[150.4,-19.9],[150.8,-20.2],[151.2,-20.4],[151.5,-20.8],[151.9,-20.7],[150.4,-20.5],[150.8,-20.9],[151.3,-21.2],[151.6,-21.5],[152.2,-21.4],[152.5,-21.2],[152.5,-21.8],[152.3,-22.1],[149.2,-19.4],[149.8,-20.1],[143.9,-13.7],[144.5,-14.1],[145.2,-14.6],[145.5,-15.2],[145.6,-15.7],[136,-6.9],[136.3,-7.2],[140.7,-16.9],[140.3,-16.8],[139.6,-16.9],[143.6,-8.6],[143.9,-8.3]];
var specksWhite = [[145.7,18.1],[163.1,5.4],[139.77,10],[199.1,-10.4],[202.1,-8.95],[208.7,-16.7],[212.35,-14.9],[214,-16],[215.66,-16.4],[215.3,-16.2],[187.5,-13.55],[189.3,-14.2],[218.3,-18.8],[218.6,-14.1],[208.5,-16.8],[160.3,-11.7],[165.9,-10.7],[166.9,-11.6],[148.1,-3.2],[158.5,-7.1],[157,-6.6],[167.6,-13],[166.2,-12.9],[168.7,-19.7],[165.5,-22.7],[202.9,1.25],[161.8,-21.9],[174.8,-1.95],[170.5,0.6]];

// painter's order: level index into barColors, -1 for land
var paintOrder = [
 [4,oceanBase],[5,greenNorth],[4,cyanNorth],[3,bandBlue],[4,bandHoles],[2,bandDeep],
 [5,greenSouth],[3,blueSouth],[4,cyanSouth],[2,deepSouth],[1,pureSouth],[0,navySouth],
 [6,limeSouth],[7,yellowSouth],[8,orangeSouth],[-1,landWhite]
];

var patches = [];
paintOrder.forEach(function(step){
    step[1].forEach(function(path){
        patches.push({
            path: path,
            fill: step[0] < 0 ? '#fff' : barColors[step[0]],
            edge: step[1] !== oceanBase,
            round: path.length < 30 && step[1] !== oceanBase
        });
    });
});

function renderPatch(params, api){
    var p = patches[api.value(2)];
    var pts = p.path.map(function(q){ return api.coord(q); });
    return {
        type: 'polygon',
        shape: {points: pts, smooth: p.round ? 0.4 : 0},
        style: {fill: p.fill, stroke: p.edge ? '#000' : null, lineWidth: 2.5}
    };
}

function renderBarCell(params, api){
    var a = api.coord([0, api.value(0)]);
    var b = api.coord([1, api.value(1)]);
    return {
        type: 'rect',
        shape: {x: a[0], y: b[1], width: b[0] - a[0], height: a[1] - b[1]},
        style: {fill: barColors[api.value(2)]}
    };
}

function islets(list, color, size){
    return {
        type: 'scatter', data: list, symbolSize: size, silent: true, animation: false, z: 3,
        itemStyle: {color: color, opacity: 1, borderColor: '#000', borderWidth: 2}
    };
}

var tickFont = {color: '#000', fontFamily: '"Liberation Serif"', fontSize: 98};
var nameFont = {color: '#000', fontFamily: '"Liberation Sans"', fontSize: 98};

var myChart = echarts.init(document.getElementById('chart'), null, {renderer: 'canvas'});
var option = {
    animation: false,
    backgroundColor: '#fff',
    grid: [
        {left: 365, top: 68, width: 3402, height: 1915},
        {left: 3801, top: 71, width: 62, height: 1917, show: true, borderColor: '#000', borderWidth: 4, backgroundColor: 'transparent', z: 10}
    ],
    xAxis: [
        {
            type: 'value', gridIndex: 0, position: 'bottom', min: 132.05, max: 219, z: 9,
            name: 'Longitude', nameLocation: 'middle', nameGap: 205, nameTextStyle: nameFont,
            axisLine: {onZero: false, lineStyle: {color: '#000', width: 4}},
            axisTick: {length: 22, lineStyle: {color: '#000', width: 3}, customValues: xTicks},
            axisLabel: Object.assign({margin: 50, customValues: xTicks}, tickFont),
            splitLine: {show: false}
        },
        {
            type: 'value', gridIndex: 0, position: 'top', min: 132.05, max: 219, z: 9,
            axisLine: {onZero: false, lineStyle: {color: '#000', width: 4}},
            axisTick: {length: 22, lineStyle: {color: '#000', width: 3}, customValues: xTicks},
            axisLabel: {show: false},
            splitLine: {show: false}
        },
        {type: 'value', gridIndex: 1, min: 0, max: 1, show: false}
    ],
    yAxis: [
        {
            type: 'value', gridIndex: 0, position: 'left', min: -22.94, max: 19.06, z: 9,
            name: 'Latitude', nameLocation: 'middle', nameGap: 240, nameRotate: 90, nameTextStyle: nameFont,
            axisLine: {onZero: false, lineStyle: {color: '#000', width: 4}},
            axisTick: {length: 22, lineStyle: {color: '#000', width: 3}, customValues: yTicks},
            axisLabel: Object.assign({
                margin: 54, customValues: yTicks,
                formatter: function(v){ return v < 0 ? '\u2212' + Math.abs(v) : '' + v; }
            }, tickFont),
            splitLine: {show: false}
        },
        {
            type: 'value', gridIndex: 0, position: 'right', min: -22.94, max: 19.06, z: 9,
            axisLine: {onZero: false, lineStyle: {color: '#000', width: 4}},
            axisTick: {length: 22, lineStyle: {color: '#000', width: 3}, customValues: yTicks},
            axisLabel: {show: false},
            splitLine: {show: false}
        },
        {
            type: 'value', gridIndex: 1, position: 'right', min: -0.5, max: 0.5, interval: 0.1, z: 11,
            axisLine: {show: false},
            axisTick: {show: true, inside: true, length: 20, lineStyle: {color: '#000', width: 3}},
            axisLabel: Object.assign({
                margin: 30,
                formatter: function(v){ return Math.abs(v) < 1e-9 ? '0' : v.toFixed(1); }
            }, tickFont, {fontSize: 88}),
            splitLine: {show: false}
        }
    ],
    series: [
        {
            type: 'custom', xAxisIndex: 0, yAxisIndex: 0, clip: true, silent: true, z: 2,
            renderItem: renderPatch,
            encode: {x: 0, y: 1},
            data: patches.map(function(p, i){ return [p.path[0][0], p.path[0][1], i]; })
        },
        islets(isletsCyan, barColors[4], 10),
        islets(isletsGreen, barColors[5], 10),
        islets(isletsBlue, barColors[3], 11),
        islets(isletsDark, barColors[2], 13),
        {
            type: 'scatter', data: specksWhite, symbol: 'rect', symbolSize: 8, silent: true, z: 3,
            itemStyle: {color: '#fff', opacity: 1}
        },
        {
            type: 'line', data: [[132.4,18.44],[219,18.44]], symbol: 'none', silent: true, z: 3,
            lineStyle: {color: '#6e0000', width: 3}
        },
        {
            type: 'scatter', symbolSize: 38, silent: true, z: 5,
            data: stationNames.map(function(n, i){
                return {value: [stationLon[i], stationLat[i]], itemStyle: {color: stationColors[i], opacity: 1}};
            })
        },
        {
            type: 'scatter', symbolSize: 1, silent: true, z: 6, clip: false,
            itemStyle: {color: 'rgba(0,0,0,0)', opacity: 1},
            data: stationNames.map(function(n, i){
                return {value: [labelLon[i], labelLat[i]], name: n};
            }),
            label: {
                show: true, position: 'right', distance: 0, formatter: '{b}',
                color: '#000', fontFamily: '"Liberation Sans"', fontWeight: 'bold', fontSize: 86,
                textBorderColor: '#000', textBorderWidth: 2
            }
        },
        {
            type: 'custom', xAxisIndex: 2, yAxisIndex: 2, silent: true, z: 2,
            renderItem: renderBarCell,
            encode: {y: [0, 1]},
            data: barColors.map(function(c, i){ return [barLevels[i], barLevels[i + 1], i]; })
        }
    ]
};
myChart.setOption(option);
</script>
</body>
</html>
